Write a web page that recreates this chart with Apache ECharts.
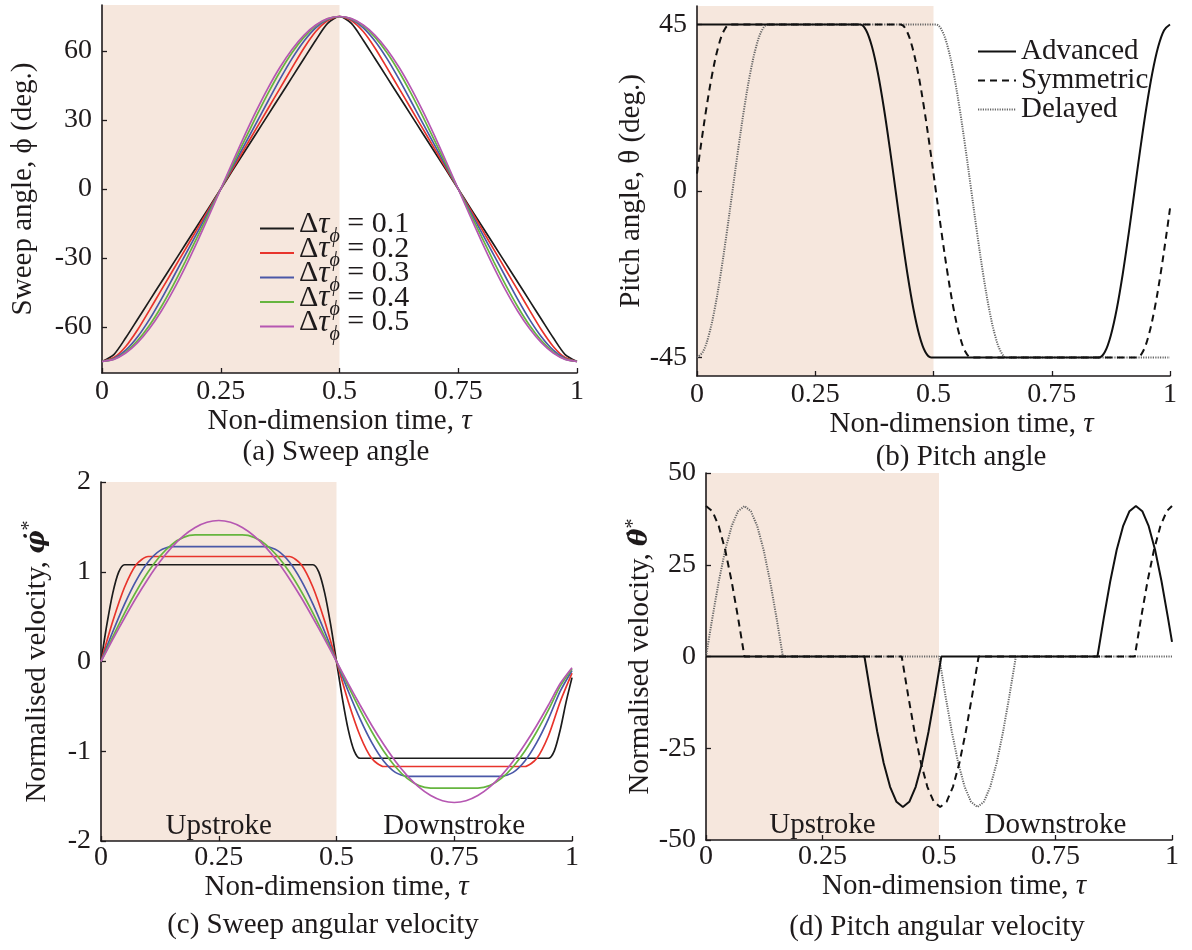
<!DOCTYPE html>
<html><head><meta charset="utf-8">
<script src="https://cdn.jsdelivr.net/npm/echarts@6/dist/echarts.min.js"></script>
<style>html,body{margin:0;padding:0;background:#fff}#c{width:1192px;height:950px}</style>
</head><body><div id="c"></div><script>
// ---------- data ----------
const xTicks = [0, 0.25, 0.5, 0.75, 1];
const yTicksA = [-60, -30, 0, 30, 60];
const yTicksB = [-45, 0, 45];
const yTicksC = [-2, -1, 0, 1, 2];
const yTicksD = [-50, -25, 0, 25, 50];

const sweepLabels = ['0.1', '0.2', '0.3', '0.4', '0.5'];
const pitchNames = ['Advanced', 'Symmetric', 'Delayed'];

const tauA = [0,0.025,0.05,0.075,0.1,0.125,0.15,0.175,0.2,0.225,0.25,0.275,0.3,0.325,0.35,0.375,0.4,0.425,0.45,0.475,0.5,0.525,0.55,0.575,0.6,0.625,0.65,0.675,0.7,0.725,0.75,0.775,0.8,0.825,0.85,0.875,0.9,0.925,0.95,0.975,1];

const sweep01 = [-75,-71.98,-64.70,-56.62,-48.53,-40.44,-32.35,-24.27,-16.18,-8.09,0,8.09,16.18,24.27,32.35,40.44,48.53,56.62,64.70,71.98,75,71.98,64.70,56.62,48.53,40.44,32.35,24.27,16.18,8.09,0,-8.09,-16.18,-24.27,-32.35,-40.44,-48.53,-56.62,-64.70,-71.98,-75];
const sweep02 = [-75,-73.30,-68.45,-61.20,-52.65,-43.88,-35.10,-26.33,-17.55,-8.78,0,8.78,17.55,26.33,35.10,43.88,52.65,61.20,68.45,73.30,75,73.30,68.45,61.20,52.65,43.88,35.10,26.33,17.55,8.78,0,-8.78,-17.55,-26.33,-35.10,-43.88,-52.65,-61.20,-68.45,-73.30,-75];
const sweep03 = [-75,-73.75,-70.09,-64.27,-56.68,-47.85,-38.36,-28.77,-19.18,-9.59,0,9.59,19.18,28.77,38.36,47.85,56.68,64.27,70.09,73.75,75,73.75,70.09,64.27,56.68,47.85,38.36,28.77,19.18,9.59,0,-9.59,-19.18,-28.77,-38.36,-47.85,-56.68,-64.27,-70.09,-73.75,-75];
const sweep04 = [-75,-73.97,-70.90,-65.92,-59.23,-51.07,-41.76,-31.65,-21.15,-10.57,0,10.57,21.15,31.65,41.76,51.07,59.23,65.92,70.90,73.97,75,73.97,70.90,65.92,59.23,51.07,41.76,31.65,21.15,10.57,0,-10.57,-21.15,-31.65,-41.76,-51.07,-59.23,-65.92,-70.90,-73.97,-75];
const sweep05 = [-75,-74.08,-71.33,-66.83,-60.68,-53.03,-44.08,-34.05,-23.18,-11.73,0,11.73,23.18,34.05,44.08,53.03,60.68,66.83,71.33,74.08,75,74.08,71.33,66.83,60.68,53.03,44.08,34.05,23.18,11.73,0,-11.73,-23.18,-34.05,-44.08,-53.03,-60.68,-66.83,-71.33,-74.08,-75];

const tauVel01 = [0,0.0125,0.025,0.0375,0.05,0.45,0.4625,0.475,0.4875,0.5,0.5125,0.525,0.5375,0.55,0.95,0.9625,0.975,0.9875,1];
const vel01 = [0,0.413,0.762,0.996,1.078,1.078,0.996,0.762,0.413,0,-0.413,-0.762,-0.996,-1.078,-1.078,-0.996,-0.762,-0.45,-0.18];
const vel02 = [0,0.448,0.827,1.081,1.17,1.17,1.17,1.17,1.17,1.17,1.17,1.17,1.17,1.17,1.17,1.17,1.17,1.081,0.827,0.448,0,-0.448,-0.827,-1.081,-1.17,-1.17,-1.17,-1.17,-1.17,-1.17,-1.17,-1.17,-1.17,-1.17,-1.17,-1.17,-1.17,-1.081,-0.827,-0.448,-0.13];
const vel03 = [0,0.331,0.639,0.904,1.108,1.235,1.279,1.279,1.279,1.279,1.279,1.279,1.279,1.279,1.279,1.235,1.108,0.904,0.639,0.331,0,-0.331,-0.639,-0.904,-1.108,-1.235,-1.279,-1.279,-1.279,-1.279,-1.279,-1.279,-1.279,-1.279,-1.279,-1.235,-1.108,-0.904,-0.639,-0.331,-0.1];
const vel04 = [0,0.275,0.540,0.783,0.997,1.172,1.303,1.383,1.41,1.41,1.41,1.41,1.41,1.383,1.303,1.172,0.997,0.783,0.540,0.275,0,-0.275,-0.540,-0.783,-0.997,-1.172,-1.303,-1.383,-1.41,-1.41,-1.41,-1.41,-1.41,-1.383,-1.303,-1.172,-0.997,-0.783,-0.540,-0.275,-0.08];
const vel05 = [0,0.246,0.485,0.713,0.923,1.111,1.271,1.400,1.494,1.552,1.571,1.552,1.494,1.400,1.271,1.111,0.923,0.713,0.485,0.246,0,-0.246,-0.485,-0.713,-0.923,-1.111,-1.271,-1.400,-1.494,-1.552,-1.571,-1.552,-1.494,-1.400,-1.271,-1.111,-0.923,-0.713,-0.485,-0.246,-0.07];

const pitchAdvTau = [0,0.345,0.3575,0.37,0.3825,0.395,0.4075,0.42,0.4325,0.445,0.4575,0.47,0.4825,0.495,0.85,0.8625,0.875,0.8875,0.9,0.9125,0.925,0.9375,0.95,0.9625,0.975,0.9875,1];
const pitchAdv = [45,45,43.47,38.97,31.82,22.5,11.65,0,-11.65,-22.5,-31.82,-38.97,-43.47,-45,-45,-43.47,-38.97,-31.82,-22.5,-11.65,0,11.65,22.5,31.82,38.97,43.47,45];
const pitchSymTau = [0,0.0075,0.02,0.0325,0.045,0.0575,0.07,0.43,0.4425,0.455,0.4675,0.48,0.4925,0.505,0.5175,0.53,0.5425,0.555,0.5675,0.58,0.93,0.9425,0.955,0.9675,0.98,0.9925,1];
const pitchSym = [4.7,11.65,22.5,31.82,38.97,43.47,45,45,43.47,38.97,31.82,22.5,11.65,0,-11.65,-22.5,-31.82,-38.97,-43.47,-45,-45,-43.47,-38.97,-31.82,-22.5,-11.65,-4.7];
const pitchDelTau = [0,0.0125,0.025,0.0375,0.05,0.0625,0.075,0.0875,0.1,0.1125,0.125,0.1375,0.15,0.505,0.5175,0.53,0.5425,0.555,0.5675,0.58,0.5925,0.605,0.6175,0.63,0.6425,0.655,1];
const pitchDel = [-45,-43.47,-38.97,-31.82,-22.5,-11.65,0,11.65,22.5,31.82,38.97,43.47,45,45,43.47,38.97,31.82,22.5,11.65,0,-11.65,-22.5,-31.82,-38.97,-43.47,-45,-45];

const rateAdvTau = [0,0.32625,0.34,0.35375,0.3675,0.38125,0.395,0.40875,0.4225,0.43625,0.45,0.46375,0.4775,0.49125,0.505,0.51875,0.82625,0.84,0.85375,0.8675,0.88125,0.895,0.90875,0.9225,0.93625,0.95,0.96375,0.9775,0.99125,1];
const rateAdv = [0,0,0,-10.6,-20.5,-29.0,-35.5,-39.6,-41,-39.6,-35.5,-29.0,-20.5,-10.6,0,0,0,0,10.6,20.5,29.0,35.5,39.6,41,39.6,35.5,29.0,20.5,10.6,4];
const rateSymTau = [0,0.01375,0.0275,0.04125,0.055,0.06875,0.0825,0.09625,0.40625,0.42,0.43375,0.4475,0.46125,0.475,0.48875,0.5025,0.51625,0.53,0.54375,0.5575,0.57125,0.585,0.59875,0.90625,0.92,0.93375,0.9475,0.96125,0.975,0.98875,1];
const rateSym = [41,39.6,35.5,29.0,20.5,10.6,0,0,0,0,-10.6,-20.5,-29.0,-35.5,-39.6,-41,-39.6,-35.5,-29.0,-20.5,-10.6,0,0,0,0,10.6,20.5,29.0,35.5,39.6,41];
const rateDelTau = [0,0.01375,0.0275,0.04125,0.055,0.06875,0.0825,0.09625,0.11,0.12375,0.1375,0.15125,0.165,0.17875,0.48625,0.5,0.51375,0.5275,0.54125,0.555,0.56875,0.5825,0.59625,0.61,0.62375,0.6375,0.65125,0.665,0.67875,1];
const rateDel = [0,10.6,20.5,29.0,35.5,39.6,41,39.6,35.5,29.0,20.5,10.6,0,0,0,0,-10.6,-20.5,-29.0,-35.5,-39.6,-41,-39.6,-35.5,-29.0,-20.5,-10.6,0,0,0];

// ---------- styles ----------
const FONT = 'Liberation Serif';
const INK = '#1e1a1b';
const SHADE = '#f6e7dd';
const sweepColors = ['#1c1c1c', '#e8342c', '#4a58a8', '#66b53f', '#b657b2'];

const pair = (xs, ys) => xs.map((x, i) => [x, ys[i]]);
const sweepNames = sweepLabels.map(v => 'Δτϕ = ' + v);
const sweepData = [sweep01, sweep02, sweep03, sweep04, sweep05];
const velData = [pair(tauVel01, vel01), pair(tauA, vel02), pair(tauA, vel03), pair(tauA, vel04), pair(tauA, vel05)];

const txt = (size) => ({ fontFamily: FONT, fontSize: size, color: INK });

function shadeArea(withLabels) {
  const lab = (t) => ({ show: withLabels, position: 'insideBottom', distance: 0, formatter: t, fontFamily: FONT, fontSize: 29, color: INK });
  const data = [[{ xAxis: 0, itemStyle: { color: SHADE }, label: lab('Upstroke') }, { xAxis: 0.5 }]];
  if (withLabels) data.push([{ xAxis: 0.5, itemStyle: { color: 'rgba(0,0,0,0)' }, label: lab('Downstroke') }, { xAxis: 1 }]);
  return { silent: true, data };
}

function xAxis(gi, gap, margin, padLeft) {
  return {
    type: 'value', gridIndex: gi, min: 0, max: 1, z: 3,
    axisLine: { show: true, onZero: false, lineStyle: { color: INK, width: 1.6 } },
    axisTick: { show: true, inside: true, length: 5, customValues: xTicks, lineStyle: { color: INK, width: 1.3 } },
    axisLabel: { customValues: xTicks, margin: margin, ...txt(28) },
    splitLine: { show: false },
    name: 'Non-dimension time, {t|τ}', nameLocation: 'middle', nameGap: gap,
    nameTextStyle: { ...txt(29), padding: [0, 0, 0, padLeft], rich: { t: { fontFamily: FONT, fontSize: 29, fontStyle: 'italic', color: INK } } }
  };
}
function yAxis(gi, min, max, ticks, name, gap, rich) {
  return {
    type: 'value', gridIndex: gi, min, max, z: 3,
    axisLine: { show: true, onZero: false, lineStyle: { color: INK, width: 1.6 } },
    axisTick: { show: true, inside: true, length: 5, customValues: ticks, lineStyle: { color: INK, width: 1.3 } },
    axisLabel: { customValues: ticks, margin: 10, ...txt(28) },
    splitLine: { show: false },
    name, nameLocation: 'middle', nameRotate: 90, nameGap: gap,
    nameTextStyle: { ...txt(29), rich: rich || {} }
  };
}
const dotRich = {
  v: { fontFamily: 'DejaVu Serif', fontSize: 26, fontStyle: 'italic', fontWeight: 'bold', color: INK },
  p: { fontFamily: FONT, fontSize: 20, color: INK, padding: [0, 0, 14, 0] }
};

const series = [];
sweepNames.forEach((n, i) => {
  series.push({
    type: 'line', name: n, xAxisIndex: 0, yAxisIndex: 0, data: pair(tauA, sweepData[i]),
    symbol: 'none', smooth: 0.25, color: sweepColors[i], lineStyle: { width: 1.7, color: sweepColors[i] },
    markArea: i === 0 ? shadeArea(false) : undefined
  });
});
sweepNames.forEach((n, i) => {
  series.push({
    type: 'line', name: n, xAxisIndex: 2, yAxisIndex: 2, data: velData[i],
    symbol: 'none', smooth: 0.25, color: sweepColors[i], lineStyle: { width: 1.7, color: sweepColors[i] },
    markArea: i === 0 ? shadeArea(true) : undefined
  });
});
const pStyles = {
  Advanced: { color: '#111', width: 2, type: 'solid' },
  Symmetric: { color: '#111', width: 2, type: [7, 5] },
  Delayed: { color: '#666', width: 2, type: [1.2, 1.2] }
};
const pitchSets = { Delayed: [pitchDelTau, pitchDel, rateDelTau, rateDel], Symmetric: [pitchSymTau, pitchSym, rateSymTau, rateSym], Advanced: [pitchAdvTau, pitchAdv, rateAdvTau, rateAdv] };
['Delayed', 'Symmetric', 'Advanced'].forEach((n, i) => {
  const s = pitchSets[n];
  series.push({ type: 'line', name: n, xAxisIndex: 1, yAxisIndex: 1, data: pair(s[0], s[1]), symbol: 'none', smooth: 0.35, color: pStyles[n].color, lineStyle: pStyles[n], markArea: i === 0 ? shadeArea(false) : undefined });
  series.push({ type: 'line', name: n, xAxisIndex: 3, yAxisIndex: 3, data: pair(s[2], s[3]), symbol: 'none', smooth: false, color: pStyles[n].color, lineStyle: pStyles[n], markArea: i === 0 ? shadeArea(true) : undefined });
});

const captions = [
  { text: '(a) Sweep angle', x: 336, y: 452 },
  { text: '(b) Pitch angle', x: 961, y: 457 },
  { text: '(c) Sweep angular velocity', x: 323, y: 925 },
  { text: '(d) Pitch angular velocity', x: 937, y: 927 }
];

const option = {
  animation: false,
  backgroundColor: '#fff',
  grid: [
    { left: 102, top: 5, width: 475, height: 368 },
    { left: 697, top: 6, width: 473, height: 370 },
    { left: 101, top: 482, width: 471, height: 359 },
    { left: 706, top: 473, width: 466, height: 367 }
  ],
  xAxis: [xAxis(0, 32, 5, 0), xAxis(1, 30, 5, 56), xAxis(2, 23, 3, 0), xAxis(3, 25, 3, 30)],
  yAxis: [
    yAxis(0, -80, 80, yTicksA, 'Sweep angle, ϕ (deg.)', 64),
    yAxis(1, -50, 50, yTicksB, 'Pitch angle, θ (deg.)', 43),
    yAxis(2, -2, 2, yTicksC, 'Normalised velocity, {v|φ̇}{p|*}', 47, dotRich),
    yAxis(3, -50, 50, yTicksD, 'Normalised velocity, {v|θ̇}{p|*}', 47, dotRich)
  ],
  legend: [
    {
      data: sweepNames, orient: 'vertical', left: 254, top: 204, itemWidth: 34, itemHeight: 12, itemGap: -13,
      selectedMode: false, itemStyle: { opacity: 0 },
      formatter: (name) => '{d|Δ}{t|τ}{s|ϕ}{b| = ' + name.split('= ')[1] + '}',
      textStyle: {
        color: INK, fontFamily: FONT,
        rich: {
          d: { fontFamily: FONT, fontSize: 30, color: INK, padding: [0, 0, 8, 0] },
          t: { fontFamily: FONT, fontSize: 31, fontStyle: 'italic', color: INK, padding: [0, 0, 8, 0] },
          s: { fontFamily: FONT, fontSize: 20, fontStyle: 'italic', color: INK, padding: [16, 0, 0, 0] },
          b: { fontFamily: FONT, fontSize: 30, color: INK, padding: [0, 0, 8, 0] }
        }
      }
    },
    {
      data: pitchNames, orient: 'vertical', left: 972, top: 32, itemWidth: 38, itemHeight: 12, itemGap: 0,
      selectedMode: false, itemStyle: { opacity: 0 },
      textStyle: { fontFamily: FONT, fontSize: 29, color: INK, lineHeight: 28 }
    }
  ],
  graphic: captions.map(c => ({
    type: 'text', x: c.x, y: c.y,
    style: { text: c.text, align: 'center', verticalAlign: 'middle', font: '29px "Liberation Serif"', fill: INK }
  })),
  series
};

const chart = echarts.init(document.getElementById('c'), null, { renderer: 'canvas' });
chart.setOption(option);
</script></body></html>
